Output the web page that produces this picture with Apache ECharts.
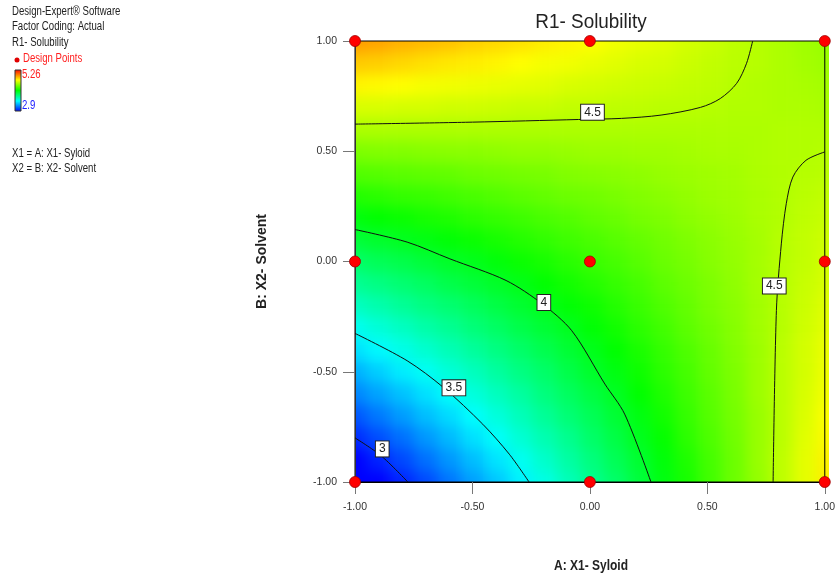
<!DOCTYPE html>
<html>
<head>
<meta charset="utf-8">
<script src="https://cdn.jsdelivr.net/npm/echarts@6/dist/echarts.min.js"></script>
<style>
  body { margin: 0; background: #fff; }
  #wrap { position: relative; width: 838px; height: 582px; overflow: hidden; background: #fff; }
  #fieldClip { position: absolute; left: 355px; top: 41px; width: 474px; height: 441px; overflow: hidden; }
  #field { position: absolute; filter: blur(7px); }
  #chart { position: absolute; left: 0; top: 0; width: 838px; height: 582px; }
</style>
</head>
<body>
<div id="wrap">
  <div id="fieldClip"><div id="field"></div></div>
  <div id="chart"></div>
</div>
<script>
// factor levels (coded) of the response grid
const levelsA = [-1.0, -0.9, -0.8, -0.7, -0.6, -0.5, -0.4, -0.3, -0.2, -0.1, 0.0, 0.1, 0.2, 0.3, 0.4, 0.5, 0.6, 0.7, 0.8, 0.9, 1.0];
const levelsB = [-1.0, -0.9, -0.8, -0.7, -0.6, -0.5, -0.4, -0.3, -0.2, -0.1, 0.0, 0.1, 0.2, 0.3, 0.4, 0.5, 0.6, 0.7, 0.8, 0.9, 1.0];

// R1 solubility, one row per level of B (bottom row first)
const solubility = [
  [2.78, 2.88, 2.98, 3.07, 3.17, 3.27, 3.36, 3.46, 3.55, 3.65, 3.75, 3.84, 3.94, 4.04, 4.13, 4.23, 4.33, 4.42, 4.52, 4.61, 4.71],
  [2.89, 2.98, 3.07, 3.16, 3.25, 3.34, 3.43, 3.52, 3.61, 3.70, 3.79, 3.88, 3.97, 4.06, 4.15, 4.24, 4.33, 4.43, 4.52, 4.61, 4.70],
  [3.00, 3.08, 3.16, 3.25, 3.33, 3.42, 3.50, 3.59, 3.67, 3.75, 3.84, 3.92, 4.01, 4.09, 4.18, 4.26, 4.34, 4.43, 4.51, 4.60, 4.68],
  [3.10, 3.18, 3.26, 3.34, 3.41, 3.49, 3.57, 3.65, 3.73, 3.81, 3.88, 3.96, 4.04, 4.12, 4.20, 4.28, 4.35, 4.43, 4.51, 4.59, 4.67],
  [3.21, 3.28, 3.35, 3.42, 3.50, 3.57, 3.64, 3.71, 3.79, 3.86, 3.93, 4.00, 4.08, 4.15, 4.22, 4.29, 4.36, 4.44, 4.51, 4.58, 4.65],
  [3.31, 3.38, 3.45, 3.51, 3.58, 3.64, 3.71, 3.78, 3.84, 3.91, 3.98, 4.04, 4.11, 4.18, 4.24, 4.31, 4.37, 4.44, 4.51, 4.57, 4.64],
  [3.42, 3.48, 3.54, 3.60, 3.66, 3.72, 3.78, 3.84, 3.90, 3.96, 4.02, 4.08, 4.14, 4.20, 4.26, 4.32, 4.38, 4.44, 4.51, 4.57, 4.63],
  [3.52, 3.58, 3.63, 3.69, 3.74, 3.80, 3.85, 3.91, 3.96, 4.01, 4.07, 4.12, 4.18, 4.23, 4.29, 4.34, 4.39, 4.45, 4.50, 4.56, 4.61],
  [3.63, 3.68, 3.73, 3.78, 3.82, 3.87, 3.92, 3.97, 4.02, 4.07, 4.11, 4.16, 4.21, 4.26, 4.31, 4.36, 4.40, 4.45, 4.50, 4.55, 4.60],
  [3.74, 3.78, 3.82, 3.86, 3.91, 3.95, 3.99, 4.03, 4.08, 4.12, 4.16, 4.20, 4.24, 4.29, 4.33, 4.37, 4.41, 4.46, 4.50, 4.54, 4.58],
  [3.84, 3.88, 3.91, 3.95, 3.99, 4.02, 4.06, 4.10, 4.13, 4.17, 4.21, 4.24, 4.28, 4.32, 4.35, 4.39, 4.42, 4.46, 4.50, 4.53, 4.57],
  [3.95, 3.98, 4.01, 4.04, 4.07, 4.10, 4.13, 4.16, 4.19, 4.22, 4.25, 4.28, 4.31, 4.34, 4.37, 4.40, 4.43, 4.46, 4.50, 4.53, 4.56],
  [4.05, 4.08, 4.10, 4.13, 4.15, 4.18, 4.20, 4.22, 4.25, 4.27, 4.30, 4.32, 4.35, 4.37, 4.40, 4.42, 4.44, 4.47, 4.49, 4.52, 4.54],
  [4.16, 4.18, 4.20, 4.21, 4.23, 4.25, 4.27, 4.29, 4.31, 4.33, 4.34, 4.36, 4.38, 4.40, 4.42, 4.44, 4.45, 4.47, 4.49, 4.51, 4.53],
  [4.27, 4.28, 4.29, 4.30, 4.31, 4.33, 4.34, 4.35, 4.36, 4.38, 4.39, 4.40, 4.41, 4.43, 4.44, 4.45, 4.46, 4.48, 4.49, 4.50, 4.51],
  [4.37, 4.38, 4.38, 4.39, 4.40, 4.40, 4.41, 4.42, 4.42, 4.43, 4.44, 4.44, 4.45, 4.45, 4.46, 4.47, 4.47, 4.48, 4.49, 4.49, 4.50],
  [4.48, 4.48, 4.48, 4.48, 4.48, 4.48, 4.48, 4.48, 4.48, 4.48, 4.48, 4.48, 4.48, 4.48, 4.48, 4.48, 4.48, 4.48, 4.49, 4.49, 4.49],
  [4.58, 4.58, 4.57, 4.57, 4.56, 4.56, 4.55, 4.54, 4.54, 4.53, 4.53, 4.52, 4.52, 4.51, 4.51, 4.50, 4.49, 4.49, 4.48, 4.48, 4.47],
  [4.69, 4.68, 4.67, 4.65, 4.64, 4.63, 4.62, 4.61, 4.60, 4.58, 4.57, 4.56, 4.55, 4.54, 4.53, 4.52, 4.50, 4.49, 4.48, 4.47, 4.46],
  [4.79, 4.78, 4.76, 4.74, 4.72, 4.71, 4.69, 4.67, 4.65, 4.64, 4.62, 4.60, 4.58, 4.57, 4.55, 4.53, 4.51, 4.50, 4.48, 4.46, 4.44],
  [4.90, 4.88, 4.85, 4.83, 4.81, 4.78, 4.76, 4.74, 4.71, 4.69, 4.67, 4.64, 4.62, 4.60, 4.57, 4.55, 4.52, 4.50, 4.48, 4.45, 4.43]
];

// colour scale limits (legend)
const scaleMin = 2.9;
const scaleMax = 5.26;
const rampColors = ['#0000ff', '#00ffff', '#00ff00', '#ffff00', '#ff0000'];

// contour lines, [A, B]
const contour45Top = [[-1, 0.623], [-0.5, 0.632], [-0.048, 0.644], [0.134, 0.649], [0.303, 0.664], [0.471, 0.699], [0.555, 0.739], [0.625, 0.808], [0.667, 0.899], [0.693, 1]];
const contour45Right = [[1, 0.497], [0.92, 0.459], [0.864, 0.383], [0.836, 0.262], [0.815, 0.08], [0.794, -0.223], [0.78, -1]];
const contour4 = [[-1, 0.145], [-0.778, 0.088], [-0.596, 0.012], [-0.357, -0.086], [-0.203, -0.192], [-0.077, -0.314], [0.064, -0.556], [0.148, -0.692], [0.26, -1]];
const contour35 = [[-1, -0.326], [-0.778, -0.45], [-0.624, -0.571], [-0.456, -0.738], [-0.343, -0.874], [-0.259, -1]];
const contour3 = [[-1, -0.8], [-0.89, -0.88], [-0.775, -1]];

const contourLabelText = ['4.5', '4.5', '4', '3.5', '3'];
const contourLabelAt = [[0.011, 0.677], [0.785, -0.111], [-0.196, -0.186], [-0.579, -0.573], [-0.884, -0.85]];

// design points
const designA = [-1, 0, 1, -1, 0, 1, -1, 0, 1];
const designB = [-1, -1, -1, 0, 0, 0, 1, 1, 1];

const sans = "'Liberation Sans', Arial, sans-serif";

// plot box in pixels
const box = { left: 355, top: 41, width: 474, height: 441 };

// ---- colour field (blurred heatmap layer under the axes) ----
const pad = 3;
const nCols = levelsA.length, nRows = levelsB.length;
const cellW = box.width / (nCols - 1), cellH = box.height / (nRows - 1);
const fieldEl = document.getElementById('field');
fieldEl.style.width = (nCols + 2 * pad) * cellW + 'px';
fieldEl.style.height = (nRows + 2 * pad) * cellH + 'px';
fieldEl.style.left = -(pad + 0.5) * cellW + 'px';
fieldEl.style.top = -(pad + 0.5) * cellH + 'px';

const clamp = (v, lo, hi) => Math.max(lo, Math.min(hi, v));
let cells = [];
for (let yi = 0; yi < nRows + 2 * pad; yi++) {
  for (let xi = 0; xi < nCols + 2 * pad; xi++) {
    let r = clamp(yi - pad, 0, nRows - 1);
    let c = clamp(xi - pad, 0, nCols - 1);
    cells.push([xi, yi, solubility[r][c]]);
  }
}
const idx = n => Array.from({ length: n }, (_, i) => i);

let field = echarts.init(fieldEl);
field.setOption({
  animation: false,
  grid: { left: 0, right: 0, top: 0, bottom: 0 },
  xAxis: { type: 'category', data: idx(nCols + 2 * pad), show: false },
  yAxis: { type: 'category', data: idx(nRows + 2 * pad), show: false },
  visualMap: { show: false, min: scaleMin, max: scaleMax, dimension: 2, inRange: { color: rampColors } },
  series: [{ type: 'heatmap', data: cells, itemStyle: { borderWidth: 0 } }]
});

// ---- axes, contours, points, annotations ----
let chart = echarts.init(document.getElementById('chart'));

let contourLine = (data) => ({
  type: 'line',
  data: data,
  smooth: 0.3,
  symbol: 'none',
  silent: true,
  lineStyle: { color: '#111', width: 1 },
  z: 3
});

// Design-Expert text is condensed, so squeeze horizontally
let narrowText = (text, x, y, size, color, align, weight, squeeze) => ({
  type: 'text', x: x, y: y, scaleX: squeeze || 0.8, originX: 0, originY: 0,
  style: {
    text: text, font: (weight ? weight + ' ' : '') + size + 'px ' + sans,
    fill: color || '#222', textAlign: align || 'left', textVerticalAlign: 'middle'
  }
});

chart.setOption({
  animation: false,
  backgroundColor: 'transparent',
  grid: Object.assign({ show: true, borderColor: '#000', borderWidth: 1, backgroundColor: 'transparent' }, box),
  xAxis: {
    type: 'value', min: -1, max: 1, interval: 0.5,
    axisLine: { show: true, onZero: false, lineStyle: { color: '#000' } },
    axisTick: { show: true, length: 12, lineStyle: { color: '#777' } },
    axisLabel: { formatter: v => v.toFixed(2), margin: 20, fontFamily: sans, fontSize: 10.5, color: '#333' },
    splitLine: { show: false }
  },
  yAxis: {
    type: 'value', min: -1, max: 1, interval: 0.5,
    name: 'B: X2- Solvent', nameLocation: 'middle', nameGap: 86,
    nameTextStyle: { fontFamily: sans, fontSize: 14, fontWeight: 'bold', color: '#222' },
    axisLine: { show: true, onZero: false, lineStyle: { color: '#333' } },
    axisTick: { show: true, length: 12, lineStyle: { color: '#777' } },
    axisLabel: { formatter: v => v.toFixed(2), margin: 18, fontFamily: sans, fontSize: 10.5, color: '#333' },
    splitLine: { show: false }
  },
  series: [
    contourLine(contour45Top),
    contourLine(contour45Right),
    contourLine(contour4),
    contourLine(contour35),
    contourLine(contour3),
    {
      type: 'scatter',
      silent: true,
      symbolSize: 1,
      itemStyle: { color: 'transparent', opacity: 1 },
      data: contourLabelAt.map((p, i) => ({ value: p, label: { formatter: contourLabelText[i] } })),
      label: {
        show: true, position: 'inside',
        backgroundColor: '#ffffff', borderColor: '#222', borderWidth: 1,
        padding: [2, 3, 1, 3],
        fontFamily: sans, fontSize: 12, color: '#222'
      },
      z: 5
    },
    {
      type: 'scatter',
      clip: false,
      symbolSize: 11,
      itemStyle: { color: '#ff0000', borderColor: '#a00000', borderWidth: 0.8, opacity: 1 },
      data: designA.map((a, i) => [a, designB[i]]),
      z: 10
    }
  ],
  graphic: [
    narrowText('R1- Solubility', 591, 22, 21, '#222', 'center', null, 0.9),
    narrowText('A: X1- Syloid', 591, 566, 15, '#222', 'center', 'bold', 0.8),
    narrowText('Design-Expert® Software', 12, 12, 12),
    narrowText('Factor Coding: Actual', 12, 27, 12),
    narrowText('R1- Solubility', 12, 43, 12),
    { type: 'circle', shape: { cx: 17, cy: 60, r: 2.5 }, style: { fill: '#e00000' } },
    narrowText('Design Points', 23, 59, 12, '#ff2020'),
    {
      type: 'rect', shape: { x: 15, y: 70, width: 6, height: 41 },
      style: {
        stroke: '#333', lineWidth: 1,
        fill: new echarts.graphic.LinearGradient(0, 0, 0, 1,
          rampColors.slice().reverse().map((c, i) => ({ offset: i / (rampColors.length - 1), color: c })))
      }
    },
    narrowText(String(scaleMax), 22, 75, 12, '#ff2020'),
    narrowText(String(scaleMin), 22, 106, 12, '#2020ff'),
    narrowText('X1 = A: X1- Syloid', 12, 154, 12),
    narrowText('X2 = B: X2- Solvent', 12, 169, 12)
  ]
});
</script>
</body>
</html>
